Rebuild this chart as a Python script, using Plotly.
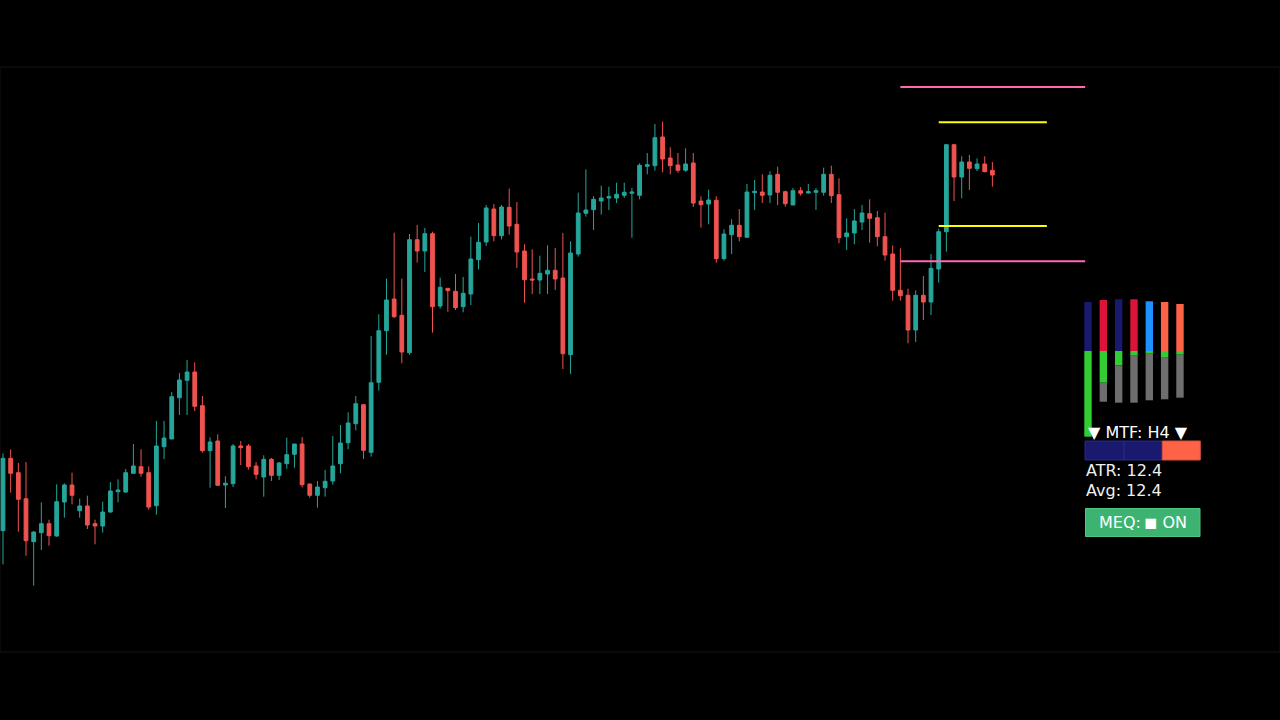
import plotly.graph_objects as go

# ---------------- data ----------------
opens = [2469.3, 2541.7, 2527.3, 2501.3, 2458.3, 2467.3, 2476.3, 2464, 2498, 2515,
         2489.3, 2494, 2476.3, 2474, 2488, 2508.3, 2508, 2526.7, 2533.3, 2527.3,
         2494.3, 2553.3, 2561, 2602.3, 2619.7, 2628, 2594.3, 2549.3, 2559, 2515,
         2516.3, 2554, 2554, 2534, 2523, 2540.7, 2524.7, 2536.3, 2545.7, 2556,
         2516, 2504.7, 2512.3, 2519, 2536.3, 2557.3, 2576.3, 2595.3, 2547.7, 2617.7,
         2669.3, 2701, 2684.7, 2647.3, 2760.3, 2749, 2766.3, 2694, 2711.7, 2708.7,
         2693.3, 2706, 2740.3, 2758, 2791, 2764.3, 2792.7, 2775.7, 2749, 2721,
         2720, 2726, 2729.7, 2722, 2645.3, 2746, 2786.7, 2790.3, 2799, 2802,
         2802, 2804.7, 2806.7, 2804.7, 2833.7, 2834.3, 2863, 2842, 2835, 2829.7,
         2837, 2799, 2796, 2799.7, 2741.3, 2765.3, 2774.7, 2762.7, 2807.3, 2808,
         2805, 2825.7, 2808.3, 2795, 2809.3, 2807, 2807.7, 2807.7, 2825.7, 2805.3,
         2763.3, 2767, 2778, 2786.3, 2782.3, 2763.3, 2746, 2709.7, 2704.7, 2670,
         2704.7, 2698, 2731, 2768.3, 2855.3, 2823, 2838, 2831.3, 2836, 2829.7]
highs = [2546.7, 2550.7, 2537, 2538, 2468.7, 2497.7, 2480.3, 2515.7, 2516.7, 2527.3,
         2501.3, 2504.3, 2480.3, 2498.3, 2518, 2520.7, 2531, 2556, 2550.7, 2533.7,
         2579, 2579, 2608, 2627, 2640, 2637.7, 2604, 2562.7, 2565.7, 2523.7,
         2556, 2559, 2556, 2538, 2544.7, 2542, 2538, 2562.3, 2556, 2563,
         2516, 2519, 2530, 2564, 2575, 2587.7, 2604, 2595.3, 2664, 2685.7,
         2721.3, 2767.3, 2721.3, 2766, 2775, 2772, 2768.3, 2722.3, 2711.7, 2726,
         2723, 2763.3, 2777, 2795, 2796, 2795, 2811.3, 2798, 2755.7, 2750.7,
         2744.3, 2754.7, 2752, 2767, 2758.7, 2807.3, 2830.7, 2804, 2814.3, 2813.3,
         2817.3, 2817.3, 2812, 2836.7, 2847, 2876, 2878.3, 2852.7, 2847, 2851.7,
         2847, 2803.7, 2810.3, 2803.7, 2770.7, 2780.7, 2791, 2816, 2820, 2825.7,
         2828.7, 2833.3, 2809.3, 2812, 2813, 2816, 2812, 2832.3, 2834.3, 2821.7,
         2781.7, 2791, 2795, 2800.7, 2789, 2787.3, 2754.7, 2751.7, 2711.3, 2709.7,
         2724, 2746, 2771.3, 2855.3, 2855.3, 2843.7, 2845, 2841.7, 2843.7, 2838]
lows = [2435.7, 2507.3, 2468.3, 2444.3, 2414.3, 2450, 2454.3, 2463.3, 2482.3, 2495.7,
        2482.3, 2471, 2455.7, 2467.3, 2487.3, 2497.7, 2507.3, 2526.7, 2523.3, 2490.3,
        2485.3, 2541, 2561, 2585, 2585, 2589, 2547.3, 2512.3, 2514, 2492,
        2513, 2535, 2530.3, 2520.7, 2503.3, 2519, 2520, 2531.3, 2532.3, 2512.7,
        2502.3, 2492.3, 2503.3, 2515.3, 2526.7, 2550.7, 2569.7, 2541, 2543.3, 2609.3,
        2645.3, 2682, 2636.7, 2645.3, 2737.3, 2728, 2667.3, 2691.3, 2688.3, 2690,
        2687.7, 2695, 2730.7, 2754, 2758.7, 2760.7, 2765.3, 2732, 2697.3, 2706,
        2706, 2706, 2710, 2631, 2626, 2743.3, 2783.3, 2770, 2785.3, 2790,
        2797, 2802, 2762.3, 2800.7, 2825.7, 2829.3, 2827.7, 2825.7, 2827.3, 2828.3,
        2793, 2772.3, 2775.7, 2737.3, 2739.3, 2746, 2758.7, 2762.7, 2790, 2797,
        2797, 2795, 2793.3, 2795, 2804.3, 2806.7, 2790, 2804.3, 2797, 2756.7,
        2750, 2755.7, 2770, 2757.3, 2753.7, 2739.3, 2699.3, 2699.3, 2656.7, 2658,
        2680, 2685, 2717.3, 2748.3, 2799, 2801.7, 2810, 2829, 2827.7, 2813.3]
closes = [2541.7, 2526.7, 2500.7, 2459.3, 2468, 2476.3, 2464.3, 2498.3, 2515, 2504.7,
          2494, 2475, 2474, 2488, 2509, 2510, 2527.3, 2534, 2526.7, 2493,
          2554, 2562, 2603.3, 2620, 2628, 2593.7, 2549.3, 2558, 2514.7, 2516.7,
          2554, 2552.3, 2533.3, 2525.7, 2540.7, 2524.7, 2537, 2545.3, 2556, 2515.3,
          2504.7, 2513, 2518.7, 2534, 2557, 2577, 2596.3, 2549.7, 2617.3, 2669.3,
          2700, 2683.3, 2648, 2760.3, 2749, 2766.3, 2693.3, 2712.7, 2709.3, 2692.3,
          2706.7, 2741, 2757.7, 2792, 2764.3, 2793, 2774, 2748, 2720.3, 2720,
          2726.7, 2729.7, 2721, 2646.3, 2747, 2787, 2790, 2800.7, 2802, 2803.3,
          2805.7, 2807.7, 2808, 2834.7, 2835.3, 2862.3, 2841, 2834.3, 2829.7, 2836,
          2797, 2795.3, 2800, 2741.3, 2766, 2774.7, 2763.3, 2808, 2808.7, 2804.7,
          2824.7, 2807.7, 2796.3, 2809.3, 2806.7, 2808.3, 2809.3, 2825.7, 2804.3, 2762.3,
          2767, 2779, 2787, 2781.7, 2763.3, 2745, 2709.7, 2704.3, 2670, 2704.7,
          2698, 2731.7, 2768.3, 2855.3, 2823, 2838, 2831.7, 2836, 2828.3, 2825]
bars = list(range(len(opens)))

# key levels: (price, start bar, end bar, colour)
level_prices = [2913.0, 2738.7, 2877.7, 2774.0]
level_starts = [117.0, 117.0, 122.0, 122.0]
level_ends = [141.1, 141.1, 136.1, 136.1]
level_colors = ["#ff69b4", "#ff69b4", "#ffff00", "#ffff00"]

# MTF strength gauges (top colour = trend, green = strength, grey = remainder)
gauge_colors = ["#191970", "#dc143c", "#191970", "#dc143c", "#1e90ff", "#ff6347", "#ff6347"]
gauge_trend = [49, 51, 51.7, 51.7, 49.7, 49, 47]        # trend segment length
gauge_strength = [85.7, 31.7, 14.3, 4.7, 2.7, 6.7, 3.7]  # green segment length
gauge_rest = [0, 19, 37.4, 47, 46.6, 41.6, 43]          # grey segment length

mtf_label = "▼ MTF: H4 ▼"
mtf_boxes = ["#191970", "#191970", "#ff6347"]
atr_value = 12.4
atr_avg = 12.4

# ---------------- figure ----------------
W, H = 1280, 720
ML, MR, MT, MB = 0, 0, 67, 68
PH = H - MT - MB


def px(xp):
    return (xp - ML) / (W - ML - MR)


def py(yp):
    return (H - MB - yp) / PH


fig = go.Figure()
fig.add_trace(go.Candlestick(
    x=bars, open=opens, high=highs, low=lows, close=closes,
    increasing=dict(line=dict(color="#26a69a", width=1), fillcolor="#26a69a"),
    decreasing=dict(line=dict(color="#ef5350", width=1), fillcolor="#ef5350"),
    showlegend=False, hoverinfo="skip",
))

for p, s, e, c in zip(level_prices, level_starts, level_ends, level_colors):
    fig.add_trace(go.Scatter(x=[s, e], y=[p, p], mode="lines",
                             line=dict(color=c, width=2), showlegend=False, hoverinfo="skip"))

shapes = []
# faint plot frame
shapes.append(dict(type="rect", xref="paper", yref="paper", x0=0, x1=1, y0=0, y1=1,
                   line=dict(color="#141414", width=1), fillcolor="rgba(0,0,0,0)", layer="below"))

gx0 = 1084.3
gstep = 15.33
gw = 7.4
gbase = 351
for i, col in enumerate(gauge_colors):
    x0 = gx0 + i * gstep
    x1 = x0 + gw
    top = gbase - gauge_trend[i]
    gend = gbase + gauge_strength[i]
    rend = gend + gauge_rest[i]
    shapes.append(dict(type="rect", xref="paper", yref="paper", x0=px(x0), x1=px(x1),
                       y0=py(gbase), y1=py(top), fillcolor=col, line=dict(width=0)))
    shapes.append(dict(type="rect", xref="paper", yref="paper", x0=px(x0), x1=px(x1),
                       y0=py(gend), y1=py(gbase), fillcolor="#32cd32", line=dict(width=0)))
    if gauge_rest[i] > 0:
        shapes.append(dict(type="rect", xref="paper", yref="paper", x0=px(x0), x1=px(x1),
                           y0=py(rend), y1=py(gend), fillcolor="#6e6e6e", line=dict(width=0)))

# MTF boxes
bx = [1085, 1124, 1162.3, 1200.3]
for i, col in enumerate(mtf_boxes):
    edge = "#2b2b85" if col == "#191970" else "#d4523a"
    shapes.append(dict(type="rect", xref="paper", yref="paper", x0=px(bx[i]), x1=px(bx[i + 1]),
                       y0=py(460), y1=py(441), fillcolor=col, line=dict(color=edge, width=1)))

# MEQ button
shapes.append(dict(type="rect", xref="paper", yref="paper", x0=px(1085.5), x1=px(1200), y0=py(536.5),
                   y1=py(508.5), fillcolor="#3cb371", line=dict(color="#52c585", width=1)))

FONT = "DejaVu Sans"
annotations = [
    dict(text=mtf_label, x=px(1085.5), y=py(432), xref="paper", yref="paper", xanchor="left",
         yanchor="middle", showarrow=False, font=dict(family=FONT, size=16, color="#ffffff")),
    dict(text=f"ATR: {atr_value}", x=px(1084), y=py(470.5), xref="paper", yref="paper", xanchor="left",
         yanchor="middle", showarrow=False, font=dict(family=FONT, size=16, color="#f0f0f0")),
    dict(text=f"Avg: {atr_avg}", x=px(1084), y=py(490.5), xref="paper", yref="paper", xanchor="left",
         yanchor="middle", showarrow=False, font=dict(family=FONT, size=16, color="#f0f0f0")),
    dict(text="MEQ:\u2009\u25fc ON", x=px(1142.5), y=py(522.5),
         xref="paper", yref="paper", xanchor="center",
         yanchor="middle", showarrow=False, font=dict(family=FONT, size=16, color="#ffffff")),
]

fig.update_layout(
    width=W, height=H,
    margin=dict(l=ML, r=MR, t=MT, b=MB, pad=0),
    paper_bgcolor="#000000", plot_bgcolor="#000000",
    shapes=shapes, annotations=annotations,
    showlegend=False,
    xaxis=dict(range=[-0.39, 166.5], visible=False, showgrid=False, zeroline=False,
               rangeslider=dict(visible=False), fixedrange=True),
    yaxis=dict(range=[2348, 2933], visible=False, showgrid=False, zeroline=False, fixedrange=True),
)

fig.write_html("out.html", config={"displayModeBar": False},
               post_script="document.body.style.margin='0';document.body.style.background='#000';")
